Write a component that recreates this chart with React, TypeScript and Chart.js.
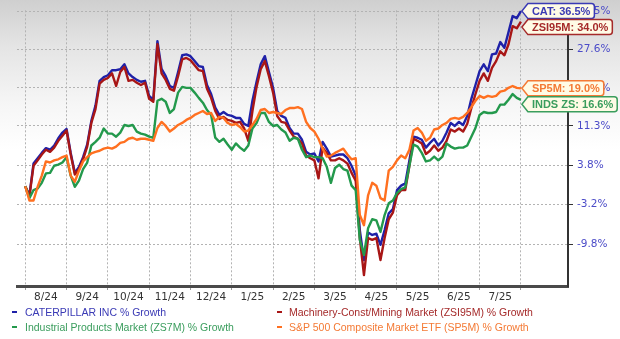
import React, { useEffect, useRef } from "react";
import { Chart, registerables } from "chart.js";

Chart.register(...registerables);

// ---- data ----
const MONTH_LABELS = ["8/24", "9/24", "10/24", "11/24", "12/24", "1/25", "2/25", "3/25", "4/25", "5/25", "6/25", "7/25", ""];
const SAMPLES_PER_MONTH = 10; // sample i sits at month i / 10 after 8/1/2024
const Y_TICKS = [-9.8, -3.2, 3.8, 11.3, 19.1, 27.6, 36.5];

const CAT = [
  0.0, -1.6, 4.1, 5.1, 6.1, 7.0, 6.7, 7.5, 8.9, 10.0,
  10.7, 6.1, 2.4, 3.5, 5.3, 7.7, 12.3, 15.4, 20.6, 21.4,
  21.8, 22.9, 22.9, 23.1, 24.2, 22.2, 21.4, 20.8, 20.4, 20.6,
  17.4, 16.6, 29.4, 23.2, 21.6, 19.5, 19.1, 22.5, 26.2, 26.4,
  26.0, 24.9, 23.8, 23.6, 19.7, 17.8, 15.0, 13.5, 14.1, 13.5,
  13.3, 12.9, 12.9, 11.7, 11.3, 16.4, 20.4, 24.2, 26.0, 22.5,
  19.1, 14.3, 13.3, 12.9, 10.9, 9.8, 9.8, 8.6, 6.3, 5.8,
  6.0, 4.5, 8.2, 6.9, 5.4, 5.6, 5.8, 5.8, 5.1, 3.7,
  1.9, -7.5, -12.3, -7.9, -8.3, -8.1, -9.9, -7.5, -4.7, -4.0,
  -0.7, 0.1, 0.5, 4.7, 9.2, 9.0, 8.6, 7.1, 8.0, 8.8,
  7.5, 8.4, 10.0, 11.9, 11.3, 12.1, 11.5, 13.3, 16.8, 19.7,
  22.7, 24.2, 22.7, 26.4, 26.6, 29.2, 27.9, 31.5, 35.3, 34.8,
  36.5,
];

const ZSI95M = [
  0.0, -1.8, 3.7, 4.7, 5.8, 6.7, 6.3, 7.1, 8.4, 9.4,
  10.4, 5.8, 2.1, 3.1, 4.9, 7.3, 11.9, 14.7, 20.0, 20.8,
  21.2, 22.2, 19.5, 22.5, 23.6, 20.6, 20.8, 20.2, 19.7, 20.2,
  16.8, 16.2, 28.7, 22.2, 20.8, 18.9, 18.5, 21.6, 25.3, 25.6,
  25.1, 24.0, 22.9, 22.7, 18.9, 17.0, 14.3, 12.7, 13.1, 12.5,
  12.3, 11.9, 12.1, 10.8, 8.4, 14.3, 19.3, 23.1, 24.9, 21.6,
  18.1, 13.3, 12.1, 11.9, 10.4, 9.2, 8.8, 7.9, 5.6, 5.1,
  4.7, 1.4, 7.1, 6.1, 4.7, 4.7, 5.1, 4.7, 4.1, 2.4,
  1.0, -8.8, -14.6, -8.8, -9.1, -8.8, -12.3, -8.8, -5.7, -4.6,
  -1.6, -0.7, -0.7, 3.7, 8.8, 8.4, 7.9, 5.9, 6.5, 7.5,
  6.5, 7.1, 8.4, 10.6, 10.2, 10.8, 10.2, 11.7, 14.9, 17.8,
  20.6, 22.2, 20.6, 23.4, 24.9, 27.1, 26.2, 28.7, 32.9, 32.4,
  34.0,
];

const ZS7M = [
  0.0, -2.1, -0.7, -0.4, 0.6, 2.3, 2.4, 3.7, 3.9, 4.3,
  5.3, 1.9, -0.1, 1.0, 3.1, 4.3, 7.5, 8.2, 9.0, 10.8,
  9.8, 9.8, 9.2, 10.0, 11.5, 11.3, 11.5, 10.2, 9.8, 9.6,
  9.2, 9.0, 16.4, 16.8, 16.2, 13.9, 14.7, 18.1, 19.3, 19.1,
  19.1, 18.1, 17.0, 16.0, 14.5, 13.5, 9.0, 8.2, 8.8, 7.7,
  6.7, 7.9, 7.1, 6.5, 7.5, 10.8, 11.9, 13.9, 13.9, 12.1,
  11.3, 11.5, 10.6, 10.0, 8.4, 9.0, 8.8, 6.7, 5.3, 5.6,
  5.3, 5.3, 5.1, 3.5, 0.6, 3.3, 3.9, 3.1, 2.8, 0.1,
  -0.7, -9.1, -11.5, -7.2, -5.7, -5.9, -7.8, -5.0, -3.0, -2.5,
  -1.2, -0.5, -0.2, 3.7, 7.7, 7.3, 6.1, 4.5, 4.7, 5.4,
  4.7, 5.4, 7.9, 7.3, 6.9, 7.1, 7.1, 7.5, 9.2, 10.9,
  13.5, 14.1, 13.9, 13.9, 14.1, 15.6, 15.6, 16.6, 17.8, 17.0,
  16.6,
];

const SP5M = [
  0.0, -2.5, -2.5, -0.1, 1.9, 4.5, 4.3, 4.7, 4.9, 5.3,
  5.6, 1.9, 0.8, 2.8, 4.5, 5.3, 6.0, 6.3, 6.5, 6.9,
  7.1, 6.9, 7.3, 8.0, 8.2, 8.8, 9.0, 8.6, 8.8, 8.8,
  8.6, 8.4, 10.9, 12.1, 11.3, 10.2, 10.8, 11.5, 11.9, 12.5,
  12.9, 13.5, 13.9, 14.3, 13.7, 13.9, 12.3, 13.1, 12.9, 11.9,
  11.5, 11.7, 11.1, 10.2, 10.4, 11.5, 12.7, 14.5, 14.7, 13.9,
  14.1, 13.9, 13.7, 14.5, 14.9, 14.9, 15.1, 14.7, 12.1, 10.9,
  10.2, 8.8, 6.9, 5.4, 5.6, 6.1, 6.5, 6.9, 5.8, 4.9,
  5.1, -5.0, -6.7, -1.6, 0.6, 0.1, -2.1, -2.5, 2.8, 3.5,
  4.7, 5.6, 5.1, 6.7, 10.4, 10.9, 10.0, 8.4, 9.0, 10.6,
  10.8, 11.5, 11.9, 12.7, 12.9, 12.7, 13.1, 13.9, 15.1, 16.4,
  17.4, 17.0, 17.4, 17.2, 17.4, 18.3, 18.5, 19.1, 19.5, 19.1,
  19.0,
];

const SERIES = [
  { tag: "CAT", legend: "CATERPILLAR INC % Growth", values: CAT, line: "#1f21a8", text: "#3a3ab5" },
  { tag: "ZSI95M", legend: "Machinery-Const/Mining Market (ZSI95M) % Growth", values: ZSI95M, line: "#a81616", text: "#a52a2a" },
  { tag: "INDS ZS", legend: "Industrial Products Market (ZS7M) % Growth", values: ZS7M, line: "#23994c", text: "#3a9d5d" },
  { tag: "SP5M", legend: "S&P 500 Composite Market ETF (SP5M) % Growth", values: SP5M, line: "#ff7020", text: "#f47a35" },
];
const DRAW_ORDER = [3, 2, 1, 0]; // lower = drawn on top

const TAG_FONT = 'bold 11px "Liberation Sans", Arial, sans-serif';
const GRID_COLOR = "#b3b3b3";

const endTagPlugin = {
  id: "endTags",
  afterDraw(chart: any) {
    const { ctx, scales } = chart;
    const xs = scales.x;
    const ys = scales.y;
    const items = SERIES.map((s) => {
      const last = s.values[s.values.length - 1];
      const lastX = (s.values.length - 1) / SAMPLES_PER_MONTH;
      return {
        text: `${s.tag}: ${last.toFixed(1)}%`,
        v: last,
        x: xs.getPixelForValue(lastX),
        y: ys.getPixelForValue(100 + last),
        color: s.text,
        border: s.text,
      };
    }).sort((a, b) => b.v - a.v);
    const h = 15;
    let prevBottom = -Infinity;
    ctx.save();
    ctx.font = TAG_FONT;
    for (const it of items) {
      const cy = Math.max(it.y, prevBottom + 1 + h / 2);
      const top = cy - h / 2;
      const bot = cy + h / 2;
      prevBottom = bot;
      const tw = ctx.measureText(it.text).width;
      const tip = it.x + 1;
      const left = tip + 6;
      const right = left + tw + 8;
      const r = 3;
      ctx.beginPath();
      ctx.moveTo(left, top);
      ctx.lineTo(right - r, top);
      ctx.quadraticCurveTo(right, top, right, top + r);
      ctx.lineTo(right, bot - r);
      ctx.quadraticCurveTo(right, bot, right - r, bot);
      ctx.lineTo(left, bot);
      ctx.lineTo(tip, cy);
      ctx.closePath();
      ctx.fillStyle = "#fffbe6";
      ctx.fill();
      ctx.lineWidth = 1.5;
      ctx.strokeStyle = it.border;
      ctx.stroke();
      ctx.fillStyle = it.color;
      ctx.textBaseline = "middle";
      ctx.textAlign = "left";
      ctx.fillText(it.text, left + 4, cy + 0.5);
    }
    ctx.restore();
  },
};

const LEGEND_ROWS = [311.5, 326.5];
const LEGEND_COLS = [{ mark: 12, text: 25 }, { mark: 277, text: 289 }];
const LEGEND_CELL = [
  { s: 0, row: 0, col: 0 },
  { s: 1, row: 0, col: 1 },
  { s: 2, row: 1, col: 0 },
  { s: 3, row: 1, col: 1 },
];

export default function App() {
  const ref = useRef<HTMLCanvasElement>(null);

  useEffect(() => {
    if (!ref.current) return;
    const chart = new Chart(ref.current, {
      type: "line",
      data: {
        datasets: SERIES.map((s, i) => ({
          label: s.legend,
          data: s.values.map((v, k) => ({ x: k / SAMPLES_PER_MONTH, y: 100 + v })),
          borderColor: s.line,
          backgroundColor: s.line,
          borderWidth: 2.4,
          pointRadius: 0,
          tension: 0,
          borderJoinStyle: "round",
          order: DRAW_ORDER[i],
        })),
      },
      options: {
        responsive: false,
        maintainAspectRatio: false,
        animation: false,
        devicePixelRatio: 1,
        layout: { padding: { left: 17, top: 9, right: 0, bottom: 35 } },
        plugins: { legend: { display: false }, tooltip: { enabled: false } },
        scales: {
          x: {
            type: "linear",
            min: -0.2,
            max: 13.14,
            afterBuildTicks: (s: any) => {
              s.ticks = MONTH_LABELS.map((_, i) => ({ value: i }));
            },
            afterFit: (s: any) => {
              s.height = 18;
            },
            grid: { color: GRID_COLOR, lineWidth: 1, tickLength: 4, tickColor: "#999", tickBorderDash: [] },
            border: { display: true, color: "#4a4a4a", width: 3, dash: [2, 2] },
            ticks: {
              autoSkip: false,
              maxRotation: 0,
              minRotation: 0,
              labelOffset: 20.6,
              padding: 1,
              color: "#333",
              font: { family: '"DejaVu Sans", Verdana, sans-serif', size: 10.5 },
              callback: (_v: any, i: number) => MONTH_LABELS[i] ?? "",
            },
          },
          y: {
            type: "logarithmic",
            position: "right",
            min: 83.75,
            max: 136.7,
            afterBuildTicks: (s: any) => {
              s.ticks = Y_TICKS.map((v) => ({ value: 100 + v }));
            },
            afterFit: (s: any) => {
              s.width = 52;
            },
            grid: { color: GRID_COLOR, lineWidth: 1, tickLength: 5, tickColor: "#333", tickBorderDash: [] },
            border: { display: true, color: "#333", width: 2, dash: [2, 2] },
            ticks: {
              autoSkip: false,
              padding: 4,
              color: "#4b4bc8",
              font: { family: '"DejaVu Sans", Verdana, sans-serif', size: 10.5 },
              callback: (_v: any, i: number) => `${Y_TICKS[i].toFixed(1)}%`,
            },
          },
        },
      },
      plugins: [endTagPlugin],
    } as any);
    return () => chart.destroy();
  }, []);

  return (
    <div
      style={{
        position: "absolute",
        left: 0,
        top: 0,
        width: 620,
        height: 339,
        overflow: "hidden",
        background: "linear-gradient(to bottom, #cfcfcf 0px, #e4e4e4 45px, #f6f6f6 105px, #ffffff 150px)",
      }}
    >
      <canvas ref={ref} width={620} height={339} style={{ position: "absolute", left: 0, top: 0, width: 620, height: 339 }} />
      {LEGEND_CELL.map((c) => {
        const s = SERIES[c.s];
        const cy = LEGEND_ROWS[c.row];
        const col = LEGEND_COLS[c.col];
        return (
          <React.Fragment key={s.tag}>
            <div style={{ position: "absolute", left: col.mark, top: cy - 1, width: 5, height: 2, background: s.line }} />
            <div
              style={{
                position: "absolute",
                left: col.text,
                top: cy - 7,
                height: 14,
                lineHeight: "14px",
                whiteSpace: "nowrap",
                fontFamily: '"Liberation Sans", Arial, sans-serif',
                fontSize: 10.5,
                color: s.text,
              }}
            >
              {s.legend}
            </div>
          </React.Fragment>
        );
      })}
    </div>
  );
}
